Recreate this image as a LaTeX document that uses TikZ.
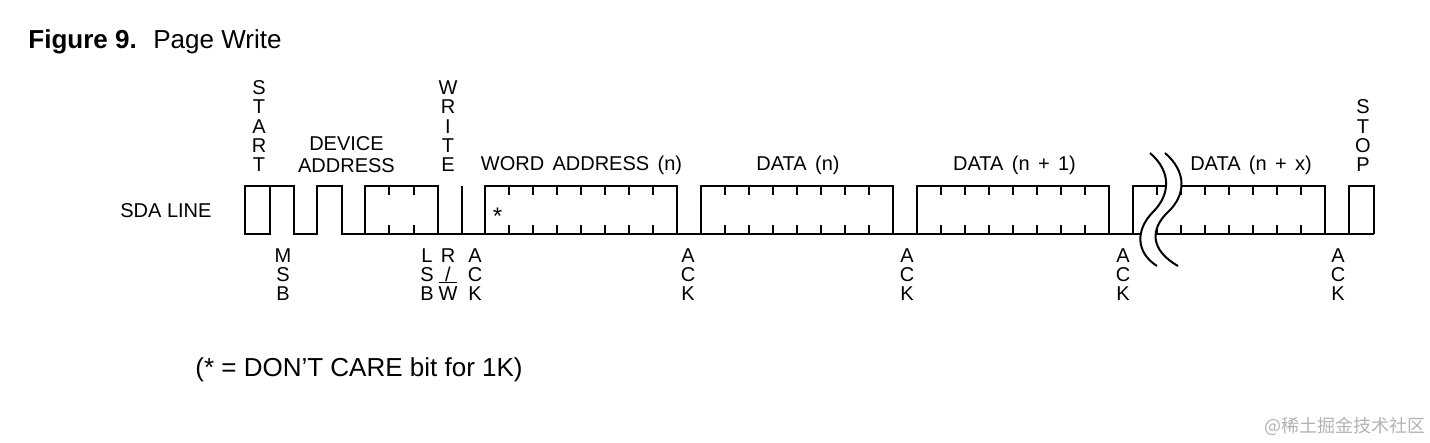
\documentclass[tikz,border=0pt]{standalone}
\usepackage{fontspec}
\setmainfont{Liberation Sans}
\newfontfamily\lblfont[WordSpace=1.5]{Liberation Sans}
\newfontfamily\wmfont{Noto Sans CJK SC}
\newcommand\ovlW{\setbox0\hbox{W}\rlap{\smash{\rule[8.9pt]{\wd0}{0.6pt}}}\box0}
\begin{document}
\begin{tikzpicture}[x=0.5pt,y=-0.5pt,
  wave/.style={line width=1.1pt},
  squig/.style={line width=1pt},
  lbl/.style={inner sep=0pt, font=\fontsize{10}{12}\selectfont},
  wlbl/.style={inner sep=0pt, anchor=base, font=\lblfont\fontsize{10}{12}\selectfont},
  stack/.style={inner sep=0pt, align=center, font=\fontsize{10}{9.6}\selectfont},
  big/.style={inner sep=0pt, anchor=base west, font=\fontsize{13}{15}\selectfont}]
\useasboundingbox (0,0) rectangle (1430,443);

% title
\node[big, font=\fontsize{13}{15}\selectfont\bfseries] (title1) at (28,49) {Figure 9.};
\node[big] (title2) at (153,49) {Page Write};

% waveform
\draw[wave] (245,186) rectangle (270,234);
\draw[wave] (270,186) -- (294,186) -- (294,234) -- (317,234) -- (317,186) -- (342,186) -- (342,234) -- (1374,234);
\draw[wave] (365,234) -- (365,186) -- (438,186) -- (438,234);
\foreach \t in {389,414} {
  \draw[wave] (\t,186) -- (\t,195);
  \draw[wave] (\t,234) -- (\t,225);
}
\draw[wave] (462,186) -- (462,234);
\foreach \s in {485,701,917,1133} {
  \draw[wave] (\s,234) -- (\s,186) -- ({\s+192},186) -- ({\s+192},234);
  \foreach \k in {1,...,7} {
    \draw[wave] ({\s+24*\k},186) -- ({\s+24*\k},195);
    \draw[wave] ({\s+24*\k},234) -- ({\s+24*\k},225);
  }
}
\draw[wave] (1349,234) -- (1349,186) -- (1374,186) -- (1374,234);

% break mark
\fill[white] (1150,153) .. controls (1172,172) and (1170,195) .. (1153,212)
  .. controls (1136,229) and (1135,252) .. (1157,266) -- (1178,266)
  .. controls (1150,250) and (1150,229) .. (1168,212)
  .. controls (1186,195) and (1187,172) .. (1165,153) -- cycle;
\draw[squig] (1150,153) .. controls (1172,172) and (1170,195) .. (1153,212)
  .. controls (1136,229) and (1135,252) .. (1157,266);
\draw[squig] (1165,153) .. controls (1187,172) and (1186,195) .. (1168,212)
  .. controls (1150,229) and (1150,250) .. (1178,266);

% labels above
\node[stack, anchor=south] (start) at (259,172) {S\\T\\A\\R\\T};
\node[stack, anchor=south] (write) at (448,172) {W\\R\\I\\T\\E};
\node[stack, anchor=south] (stop) at (1363,172) {S\\T\\O\\P};
\node[lbl, align=center, anchor=south, font=\fontsize{10}{11}\selectfont] (devaddr) at (346.5,173) {DEVICE\\ADDRESS};
\node[wlbl] (wordaddr) at (581.5,171) {WORD ADDRESS (n)};
\node[wlbl] (datan) at (798,171) {DATA (n)};
\node[wlbl] (datan1) at (1014.5,171) {DATA (n + 1)};
\node[wlbl] (datanx) at (1251,171) {DATA (n + x)};
\node[lbl, anchor=base west] (sda) at (120,218) {SDA LINE};
\node[lbl, anchor=base, font=\fontsize{12}{12}\selectfont] (star) at (497.5,225) {*};

% labels below
\node[stack, anchor=north] (msb) at (283,248) {M\\S\\B};
\node[stack, anchor=north] (lsb) at (427,248) {L\\S\\B};
\node[stack, anchor=north] (rw) at (448,248) {R\\/\\\ovlW};
\node[stack, anchor=north] (ack0) at (475,248) {A\\C\\K};
\node[stack, anchor=north] (ack1) at (688,248) {A\\C\\K};
\node[stack, anchor=north] (ack2) at (907,248) {A\\C\\K};
\node[stack, anchor=north] (ack3) at (1123,248) {A\\C\\K};
\node[stack, anchor=north] (ack4) at (1338,248) {A\\C\\K};

% note
\node[big] (note) at (195,377) {(* = DON’T CARE bit for 1K)};

% watermark
\node[inner sep=0pt, font=\wmfont\fontsize{9}{10}\selectfont, text=black!30] (wm) at (1345,426) {@稀土掘金技术社区};
\end{tikzpicture}
\end{document}
